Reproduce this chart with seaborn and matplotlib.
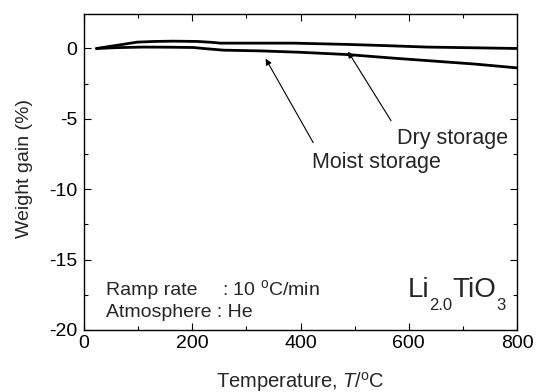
import numpy as np
import pandas as pd
import matplotlib
matplotlib.use("Agg")
import matplotlib.pyplot as plt
import seaborn as sns
from matplotlib.ticker import MultipleLocator

# TG weight-gain curves for Li2.0TiO3 (ramp 10 degC/min, He)
dry_temp = [23, 60, 98, 130, 165, 209, 235, 252, 300, 387, 486, 560, 634, 720, 801]
dry_gain = [0.0, 0.22, 0.45, 0.50, 0.52, 0.50, 0.44, 0.38, 0.38, 0.38, 0.29, 0.20, 0.10, 0.05, 0.0]

moist_temp = [23, 60, 110, 160, 202, 221, 258, 326, 400, 486, 573, 634, 720, 801]
moist_gain = [0.0, 0.06, 0.10, 0.09, 0.07, 0.0, -0.12, -0.17, -0.27, -0.43, -0.69, -0.86, -1.10, -1.38]

x_ticks = [0, 200, 400, 600, 800]
y_ticks = [0, -5, -10, -15, -20]

sns.set_style("ticks")
plt.rcParams["font.family"] = ["Liberation Sans", "DejaVu Sans"]
plt.rcParams["mathtext.fontset"] = "custom"
plt.rcParams["mathtext.rm"] = "Liberation Sans"
plt.rcParams["mathtext.it"] = "Liberation Sans:italic"
plt.rcParams["mathtext.default"] = "regular"
plt.rcParams["axes.unicode_minus"] = False

df = pd.concat([
    pd.DataFrame({"T": dry_temp, "gain": dry_gain, "sample": "Dry storage"}),
    pd.DataFrame({"T": moist_temp, "gain": moist_gain, "sample": "Moist storage"}),
])

fig = plt.figure(figsize=(5.36, 3.92), dpi=100)
ax = fig.add_axes([84 / 536, 1 - 330 / 392, (517 - 84) / 536, (330 - 14) / 392])

sns.lineplot(data=df, x="T", y="gain", units="sample", estimator=None,
             color="black", linewidth=2.0, sort=False, ax=ax, legend=False)

ax.set_xlim(0, 800)
ax.set_ylim(-20, 2.45)
ax.set_xticks(x_ticks)
ax.set_yticks(y_ticks)
ax.xaxis.set_minor_locator(MultipleLocator(100))
ax.yaxis.set_minor_locator(MultipleLocator(2.5))
ax.tick_params(which="both", direction="in", top=True, right=True,
               width=0.8, labelsize=14, colors="black")
ax.tick_params(which="major", length=5)
ax.tick_params(which="minor", length=3)
ax.tick_params(axis="x", pad=3.5)
ax.tick_params(axis="y", pad=5)
for s in ax.spines.values():
    s.set_linewidth(1.0)
    s.set_color("black")

ax.set_xlabel(r"Temperature, $\mathit{T}$/$^{\mathrm{o}}$C", fontsize=14.5)
ax.set_ylabel("Weight gain (%)", fontsize=14)
ax.xaxis.set_label_coords(0.5, -0.125)
ax.yaxis.set_label_coords(-0.118, 0.51)

arrow = dict(arrowstyle="-|>", color="black", lw=0.8, mutation_scale=9)
ax.annotate("", xy=(333, -0.55), xytext=(426, -6.86), arrowprops=arrow)
ax.annotate("", xy=(485, -0.05), xytext=(570, -5.3), arrowprops=arrow)
ax.text(421, -8.48, "Moist storage", fontsize=15.5, ha="left", va="baseline")
ax.text(579, -6.81, "Dry storage", fontsize=15.5, ha="left", va="baseline")

ax.text(41, -17.48, "Ramp rate", fontsize=14, ha="left", va="baseline")
ax.text(255, -17.48, r": 10 $^{\mathrm{o}}$C/min", fontsize=14, ha="left", va="baseline")
ax.text(41, -19.07, "Atmosphere : He", fontsize=14, ha="left", va="baseline")

# chemical formula built piece by piece so the subscripts hang below the baseline
base_y = -17.69
li = ax.text(598, base_y, "Li", fontsize=20, ha="left", va="baseline")
sub1 = ax.annotate("2.0", xy=(1, base_y), xycoords=(li, "data"),
                   xytext=(0, -0.6), textcoords="offset points",
                   fontsize=12, ha="left", va="top")
tio = ax.annotate("TiO", xy=(1, base_y), xycoords=(sub1, "data"),
                  xytext=(0, 0), textcoords="offset points",
                  fontsize=20, ha="left", va="baseline")
ax.annotate("3", xy=(1, base_y), xycoords=(tio, "data"),
            xytext=(0, -0.6), textcoords="offset points",
            fontsize=12, ha="left", va="top")

fig.savefig("out.png", dpi=100)
